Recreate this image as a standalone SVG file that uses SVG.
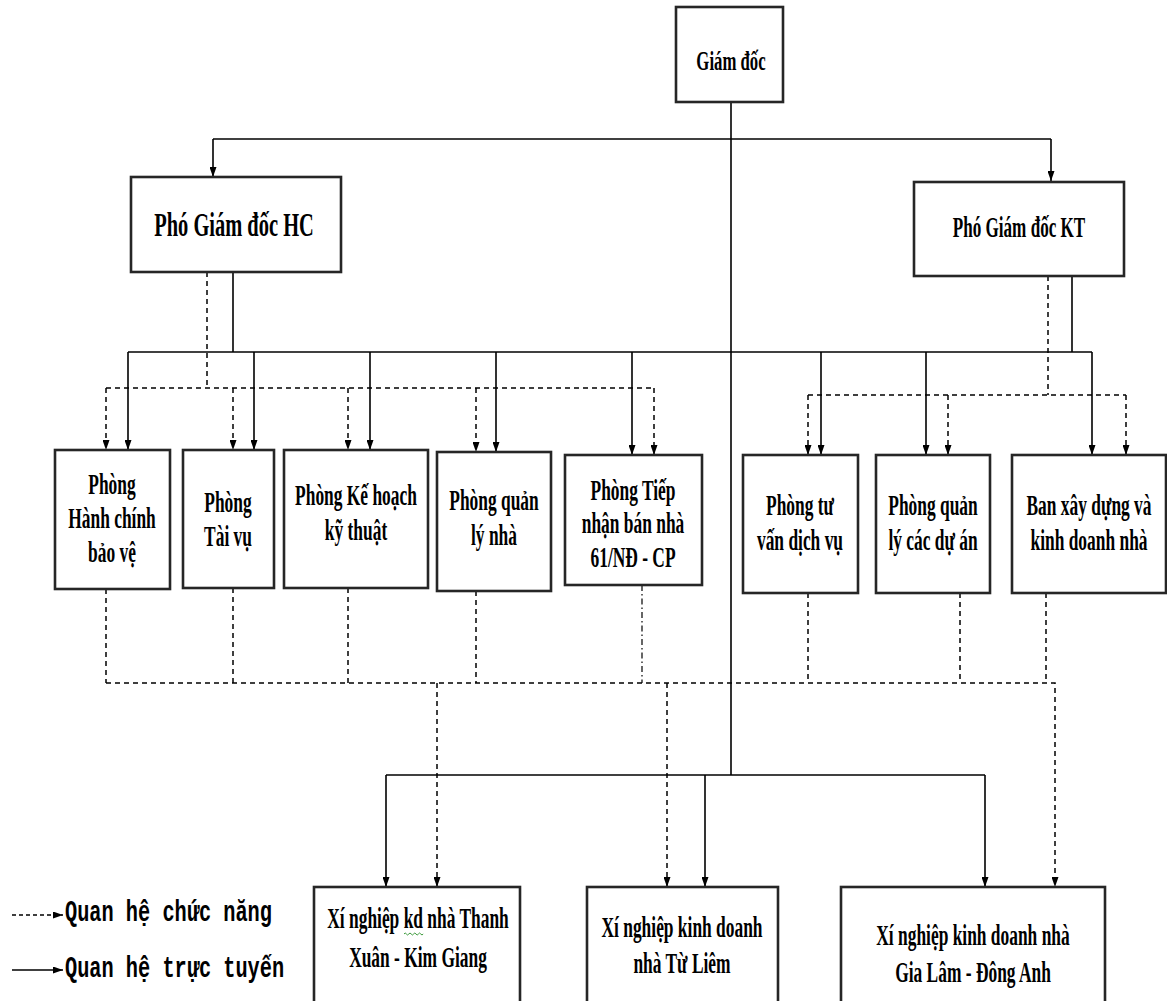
<svg xmlns="http://www.w3.org/2000/svg" width="1167" height="1001" viewBox="0 0 1167 1001">
<style>
.box{fill:#fff;stroke:#262626;stroke-width:2.6}
.t{font-family:"Liberation Serif","Times New Roman",serif;font-weight:bold;font-size:29px;fill:#000;text-anchor:middle}
.lg{font-family:"Liberation Mono","Courier New",monospace;font-weight:bold;font-size:29px;fill:#000}
.s{fill:none;stroke:#000;stroke-width:1.6}
.d{fill:none;stroke:#000;stroke-width:1.5;stroke-dasharray:5 4}
.dd{fill:none;stroke:#000;stroke-width:1.2;stroke-dasharray:6 3 1.5 3}
.a{marker-end:url(#ah)}
</style>
<defs>
<marker id="ah" markerUnits="userSpaceOnUse" markerWidth="10" markerHeight="7" refX="10" refY="3.5" orient="auto">
<path d="M0 0 L10 3.5 L0 7 Z" fill="#000"/>
</marker>
</defs>
<rect width="1167" height="1001" fill="#fff"/>
<g id="connectors">
<path class="s" d="M731 102 V775"/>
<path class="s" d="M213 139 H1051"/>
<path class="s a" d="M213 139 V177"/>
<path class="s a" d="M1051 139 V181"/>
<path class="s" d="M233 272 V352"/>
<path class="s" d="M1072 276 V352"/>
<path class="s" d="M128 352 H1092"/>
<path class="s a" d="M128 352 V450"/>
<path class="s a" d="M254 352 V450"/>
<path class="s a" d="M370 352 V450"/>
<path class="s a" d="M496 352 V452"/>
<path class="s a" d="M632 352 V455"/>
<path class="s a" d="M821 352 V455"/>
<path class="s a" d="M926 352 V455"/>
<path class="s a" d="M1092 352 V455"/>
<path class="d" d="M207 272 V388"/>
<path class="d" d="M106 388 H654"/>
<path class="d a" d="M106 388 V450"/>
<path class="d a" d="M233 388 V450"/>
<path class="d a" d="M348 388 V450"/>
<path class="d a" d="M476 388 V452"/>
<path class="d a" d="M654 388 V455"/>
<path class="d" d="M1048 276 V395"/>
<path class="d" d="M808 395 H1126"/>
<path class="d a" d="M808 395 V455"/>
<path class="d a" d="M948 395 V455"/>
<path class="d a" d="M1126 395 V455"/>
<path class="d" d="M106 589 V683"/>
<path class="d" d="M233 588 V683"/>
<path class="d" d="M348 588 V683"/>
<path class="d" d="M476 591 V683"/>
<path class="dd" d="M642 585 V683"/>
<path class="d" d="M808 593 V683"/>
<path class="d" d="M960 593 V683"/>
<path class="d" d="M1046 593 V683"/>
<path class="d a" d="M106 683 H1055 V887"/>
<path class="d a" d="M437 683 V887"/>
<path class="d a" d="M667 683 V887"/>
<path class="s" d="M386 775 H985"/>
<path class="s a" d="M386 775 V887"/>
<path class="s a" d="M705 775 V887"/>
<path class="s a" d="M985 775 V887"/>
</g>
<g id="giam-doc">
<rect class="box" x="676" y="7" width="107" height="95"/>
<text class="t" transform="translate(731 70) scale(0.62 1)" style="font-size:27px">Giám đốc</text>
</g>
<g id="pho-giam-doc-hc">
<rect class="box" x="131" y="177" width="210" height="95"/>
<text class="t" transform="translate(234 236) scale(0.62 1)" style="font-size:33px">Phó Giám đốc HC</text>
</g>
<g id="pho-giam-doc-kt">
<rect class="box" x="914" y="182" width="210" height="94"/>
<text class="t" transform="translate(1019 237) scale(0.57 1)" style="font-size:30px">Phó Giám đốc KT</text>
</g>
<g id="phong-hanh-chinh">
<rect class="box" x="55" y="450" width="115" height="139"/>
<text class="t" transform="translate(112 494) scale(0.6 1)">Phòng</text>
<text class="t" transform="translate(112 528) scale(0.6 1)">Hành chính</text>
<text class="t" transform="translate(112 562) scale(0.6 1)">bảo vệ</text>
</g>
<g id="phong-tai-vu">
<rect class="box" x="183" y="450" width="91" height="138"/>
<text class="t" transform="translate(228 512) scale(0.6 1)">Phòng</text>
<text class="t" transform="translate(228 546) scale(0.6 1)">Tài vụ</text>
</g>
<g id="phong-ke-hoach">
<rect class="box" x="284" y="450" width="144" height="138"/>
<text class="t" transform="translate(356 505) scale(0.6 1)">Phòng Kế hoạch</text>
<text class="t" transform="translate(356 540) scale(0.6 1)">kỹ thuật</text>
</g>
<g id="phong-quan-ly-nha">
<rect class="box" x="437" y="452" width="114" height="139"/>
<text class="t" transform="translate(494 510) scale(0.6 1)">Phòng quản</text>
<text class="t" transform="translate(494 545) scale(0.6 1)">lý nhà</text>
</g>
<g id="phong-tiep-nhan">
<rect class="box" x="565" y="455" width="137" height="130"/>
<text class="t" transform="translate(633 500) scale(0.6 1)">Phòng Tiếp</text>
<text class="t" transform="translate(633 533) scale(0.6 1)">nhận bán nhà</text>
<text class="t" transform="translate(633 567) scale(0.6 1)">61/NĐ - CP</text>
</g>
<g id="phong-tu-van">
<rect class="box" x="743" y="455" width="115" height="138"/>
<text class="t" transform="translate(800 515) scale(0.6 1)">Phòng tư</text>
<text class="t" transform="translate(800 550) scale(0.6 1)">vấn dịch vụ</text>
</g>
<g id="phong-quan-ly-du-an">
<rect class="box" x="876" y="455" width="114" height="138"/>
<text class="t" transform="translate(933 515) scale(0.6 1)">Phòng quản</text>
<text class="t" transform="translate(933 550) scale(0.6 1)">lý các dự án</text>
</g>
<g id="ban-xay-dung">
<rect class="box" x="1012" y="455" width="154" height="138"/>
<text class="t" transform="translate(1089 515) scale(0.6 1)">Ban xây dựng và</text>
<text class="t" transform="translate(1089 550) scale(0.6 1)">kinh doanh nhà</text>
</g>
<g id="xn-thanh-xuan">
<rect class="box" x="314" y="887" width="206" height="130"/>
<text class="t" transform="translate(418 928) scale(0.6 1)">Xí nghiệp kd nhà Thanh</text>
<text class="t" transform="translate(418 967) scale(0.6 1)">Xuân - Kim Giang</text>
<path d="M404 934 q1.2 -2 2.4 0 t2.4 0 t2.4 0 t2.4 0 t2.4 0 t2.4 0 t2.4 0 t2.4 0" fill="none" stroke="#3a9a3a" stroke-width="1"/>
</g>
<g id="xn-tu-liem">
<rect class="box" x="587" y="887" width="191" height="130"/>
<text class="t" transform="translate(682 937) scale(0.6 1)">Xí nghiệp kinh doanh</text>
<text class="t" transform="translate(682 973) scale(0.6 1)">nhà Từ Liêm</text>
</g>
<g id="xn-gia-lam">
<rect class="box" x="841" y="887" width="264" height="130"/>
<text class="t" transform="translate(973 945) scale(0.6 1)">Xí nghiệp kinh doanh nhà</text>
<text class="t" transform="translate(973 982) scale(0.6 1)">Gia Lâm - Đông Anh</text>
</g>
<g id="legend">
<path class="d a" d="M12 915 H63" style="stroke-dasharray:4 3"/>
<text class="lg" transform="translate(65 921) scale(0.7 1)">Quan hệ chức năng</text>
<path class="s a" d="M12 970 H63"/>
<text class="lg" transform="translate(65 977) scale(0.7 1)">Quan hệ trực tuyến</text>
</g>
</svg>
